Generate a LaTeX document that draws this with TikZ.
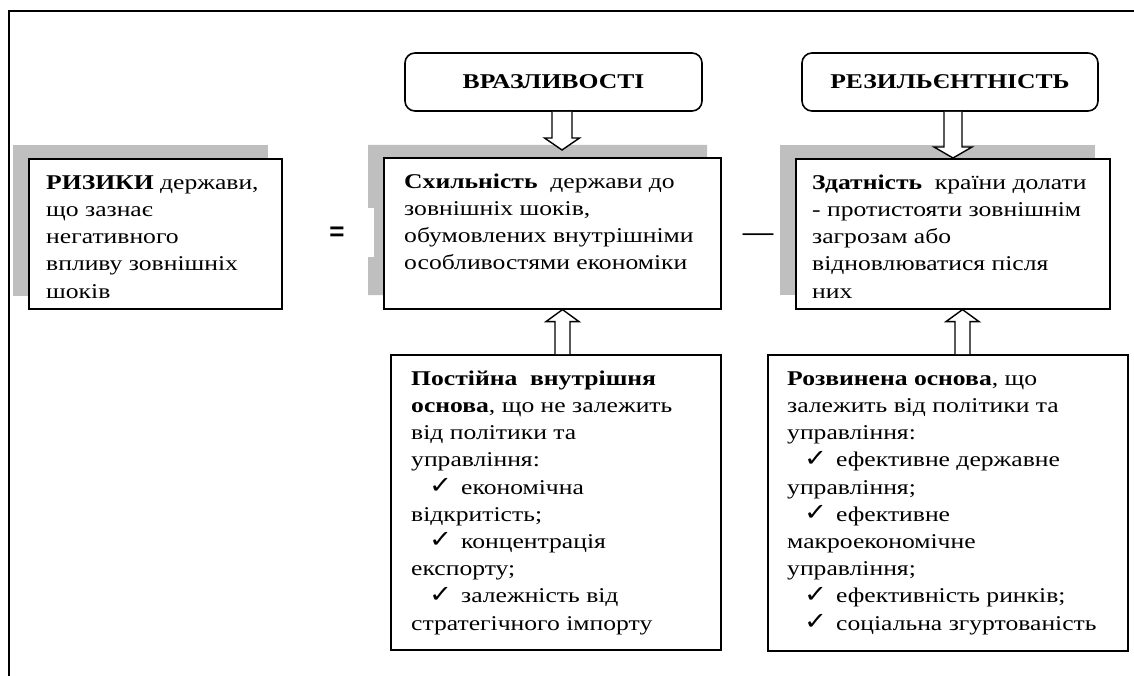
\documentclass[tikz,border=0pt]{standalone}
\usepackage{fontspec}
\setmainfont{Liberation Serif}[FakeStretch=1.22]
\newfontfamily\symfont{DejaVu Sans}[FakeStretch=1.15]
\newfontfamily\sansf{Liberation Sans}
\usetikzlibrary{calc}
\newcommand\fl{\rule{0pt}{16pt}}
\newcommand\ck[1]{\hspace*{#1}\makebox[32pt][l]{\raisebox{0.5pt}{\symfont\bfseries\fontsize{24}{27}\selectfont ✓}}}
\newcommand\blockarrow[5]{%
  \path ($(#2)!#5!(#1)$) coordinate (hb);
  \draw[barrow] ($(#1)+(-#3,0)$) -- ($(hb)+(-#3,0)$) -- ($(hb)+(-#4,0)$) -- (#2) -- ($(hb)+(#4,0)$) -- ($(hb)+(#3,0)$) -- ($(#1)+(#3,0)$);
}
\tikzset{
  box/.style={draw, line width=1.6pt, fill=white, inner sep=0pt, anchor=north west},
  shadowfill/.style={fill=black!25, draw=none},
  txt/.style={anchor=north west, inner sep=0pt, align=left, font=\fontsize{21}{27.2}\selectfont},
  headbox/.style={draw, rounded corners=10pt, line width=1.6pt, inner sep=0pt, font=\fontsize{21}{27}\selectfont\bfseries},
  barrow/.style={draw, fill=white, line width=1.4pt, line join=miter},
  frame/.style={line width=1.3pt}
}
\begin{document}
\begin{tikzpicture}[x=1pt,y=-1pt]
\useasboundingbox (0,0) rectangle (1134,676);
% outer frame
\draw[frame] (1134,11) -- (9,11) -- (9,676);

% shadows
\fill[shadowfill] (13,145) rectangle (268,296);
\fill[shadowfill] (368,145) -- (707,145) -- (707,295) -- (368,295) -- (368,257) -- (374,257) -- (374,208) -- (368,208) -- cycle;
\fill[shadowfill] (780,145) rectangle (1095,295);

% boxes
\node[box, minimum width=253pt, minimum height=150pt] (risk) at (28,158) {};
\node[box, minimum width=337pt, minimum height=151pt] (mid) at (383,157) {};
\node[box, minimum width=314pt, minimum height=150pt] (res) at (795,158) {};
\node[box, minimum width=330pt, minimum height=295pt] (base1) at (390,354) {};
\node[box, minimum width=360pt, minimum height=296pt] (base2) at (767,354) {};

% headings
\node[headbox, minimum width=297pt, minimum height=58pt] (vraz) at (553.5,82) {ВРАЗЛИВОСТІ};
\node[headbox, minimum width=296pt, minimum height=58pt] (resh) at (950,82) {РЕЗИЛЬЄНТНІСТЬ};

% texts
\node[txt] (trisk) at (46,173) {\fl\textbf{РИЗИКИ} держави,\\ що зазнає\\ негативного\\ впливу зовнішніх\\ шоків};
\node[txt] (tmid) at (404,172) {\fl\textbf{Схильність}\ \ держави до\\ зовнішніх шоків,\\ обумовлених внутрішніми\\ особливостями економіки};
\node[txt] (tres) at (812,173) {\fl\textbf{Здатність}\ \ країни долати\\ - протистояти зовнішнім\\ загрозам або\\ відновлюватися після\\ них};
\node[txt] (tb1) at (411,369) {\fl\textbf{Постійна\ \ внутрішня}\\ \textbf{основа}, що не залежить\\ від політики та\\ управління:\\ \ck{18pt}економічна\\ відкритість;\\ \ck{18pt}концентрація\\ експорту;\\ \ck{18pt}залежність від\\ стратегічного імпорту};
\node[txt] (tb2) at (787,369) {\fl\textbf{Розвинена основа}, що\\ залежить від політики та\\ управління:\\ \ck{17pt}ефективне державне\\ управління;\\ \ck{17pt}ефективне\\ макроекономічне\\ управління;\\ \ck{17pt}ефективність ринків;\\ \ck{17pt}соціальна згуртованість};

% operators
\node[font=\sansf\bfseries\fontsize{26}{26}\selectfont, inner sep=0pt] (eq) at (337,234) {=};
\node[font=\bfseries\fontsize{25}{26}\selectfont, inner sep=0pt] (minus) at (758,237) {—};

% block arrows
\coordinate (x1) at (562,0);
\coordinate (x2) at (953,0);
\coordinate (x3) at (562.5,0);
\coordinate (x4) at (962.5,0);
\coordinate (a1s) at (vraz.south -| x1);
\coordinate (a1e) at ($(mid.north -| x1)+(0,-7)$);
\coordinate (a2s) at (resh.south -| x2);
\coordinate (a2e) at (res.north -| x2);
\coordinate (a3s) at (base1.north -| x3);
\coordinate (a3e) at (mid.south -| x3);
\coordinate (a4s) at (base2.north -| x4);
\coordinate (a4e) at (res.south -| x4);
\blockarrow{a1s}{a1e}{10pt}{17.5pt}{12pt}
\blockarrow{a2s}{a2e}{9pt}{19pt}{11pt}
\blockarrow{a3s}{a3e}{7.5pt}{16.5pt}{12pt}
\blockarrow{a4s}{a4e}{7.5pt}{16.5pt}{12pt}
\end{tikzpicture}
\end{document}
